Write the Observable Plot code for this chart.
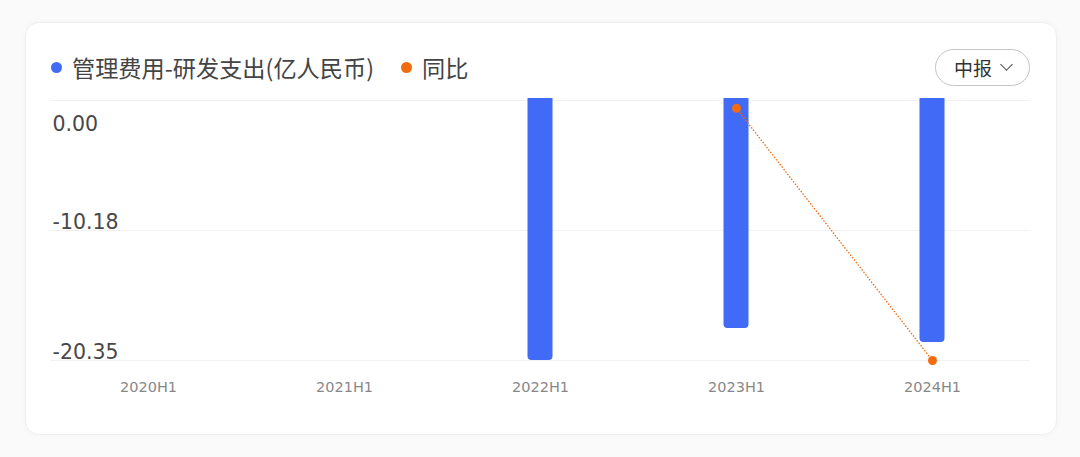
<!DOCTYPE html>
<html>
<head>
<meta charset="utf-8">
<script src="https://cdn.jsdelivr.net/npm/d3@7"></script>
<script src="https://cdn.jsdelivr.net/npm/@observablehq/plot@0.6"></script>
<style>
  html, body { margin: 0; padding: 0; background: #fafafa; width: 1080px; height: 457px; overflow: hidden; }
  body { font-family: "Noto Sans CJK SC", "Noto Sans", sans-serif; }
  .card { position: absolute; left: 25px; top: 22px; width: 1030px; height: 411px; background: #fff;
          border: 1px solid #efefef; border-radius: 14px; box-shadow: 0 0 6px rgba(0,0,0,0.03); }
  .legend { position: absolute; left: 51px; top: 50px; display: flex; align-items: center; font-size: 23.2px; color: #444; }
  .legend .item { display: flex; align-items: center; margin-right: 27px; }
  .legend .dot { width: 11px; height: 11px; border-radius: 50%; margin-right: 10px; }
  .btn { position: absolute; left: 935px; top: 49px; width: 95px; height: 37px; border: 1.5px solid #c4c4c4; border-radius: 19px;
         box-sizing: border-box; display: flex; align-items: center; justify-content: center; font-size: 19px; color: #333; }
  .chev { display: inline-block; width: 8px; height: 8px; border-right: 1.3px solid #444; border-bottom: 1.3px solid #444;
          transform: rotate(45deg); margin-left: 10px; margin-top: -6px; }
  #chart { position: absolute; left: 0; top: 90px; }
</style>
</head>
<body>
<div class="card"></div>
<div class="legend" id="legend"></div>
<div class="btn">中报<span class="chev"></span></div>
<div id="chart"></div>
<script>
const periods = ["2020H1", "2021H1", "2022H1", "2023H1", "2024H1"];
const rdExpense = [null, null, -20.35, -17.85, -18.95];  // 管理费用-研发支出(亿人民币)
const yoy = [null, null, null, 25.6, -6.6];              // 同比 (%), hidden secondary axis
const yTicks = [0, -10.18, -20.35];
const yTickLabels = ["0.00", "-10.18", "-20.35"];
const seriesNames = ["管理费用-研发支出(亿人民币)", "同比"];
const seriesColors = ["#416bf6", "#f26b0f"];

// legend
const legend = document.getElementById("legend");
seriesNames.forEach((n, i) => {
  const it = document.createElement("div"); it.className = "item";
  const d = document.createElement("span"); d.className = "dot"; d.style.background = seriesColors[i];
  const t = document.createElement("span"); t.textContent = n;
  it.append(d, t); legend.append(it);
});

const bars = periods.map((p, i) => ({period: p, value: rdExpense[i]})).filter(d => d.value != null);
// secondary axis for 同比 mapped onto the primary range
const yoyVals = yoy.filter(v => v != null);
const yoyToPrimary = d3.scaleLinear().domain([d3.min(yoyVals), d3.max(yoyVals) + 1]).range([-20.35, 0]);
const line = periods.map((p, i) => ({period: p, v: yoy[i]})).filter(d => d.v != null).map(d => ({...d, y: yoyToPrimary(d.v)}));
const ticks = yTicks.map((v, i) => ({v, label: yTickLabels[i]}));
const numFont = "'DejaVu Sans', sans-serif";

const chart = Plot.plot({
  width: 1080,
  height: 320,
  marginTop: 8,
  marginBottom: 50,
  marginLeft: 50,
  marginRight: 50,
  style: { fontFamily: numFont, background: "transparent" },
  x: { domain: periods, padding: 0, label: null },
  y: { domain: [-20.35, 0], axis: null, label: null, insetTop: 2 },
  marks: [
    Plot.ruleY(yTicks, { stroke: "#f1f1f1", strokeWidth: 1 }),
    Plot.text(ticks.filter(d => d.v !== 0), { y: "v", text: "label", frameAnchor: "left", textAnchor: "start", lineAnchor: "bottom", dx: 2, dy: -2, fontSize: 20.5, fill: "#484848", fontFamily: numFont }),
    Plot.text(ticks.filter(d => d.v === 0), { y: "v", text: "label", frameAnchor: "left", textAnchor: "start", lineAnchor: "top", dx: 2, dy: 16, fontSize: 20.5, fill: "#484848", fontFamily: numFont }),
    Plot.barY(bars, { x: "period", y: "value", fill: seriesColors[0], insetLeft: 85.5, insetRight: 85.5, rx: 4, insetTop: -8, clip: "frame" }),
    Plot.line(line, { x: "period", y: "y", stroke: seriesColors[1], strokeWidth: 1.5, strokeDasharray: "0.1 3", strokeLinecap: "round" }),
    Plot.dot(line, { x: "period", y: "y", r: 4.5, fill: seriesColors[1], stroke: "none" }),
    Plot.axisX({ tickSize: 0, tickPadding: 21, fontSize: 14.5, color: "#888", label: null, fontFamily: numFont })
  ]
});
document.getElementById("chart").append(chart);
</script>
</body>
</html>
